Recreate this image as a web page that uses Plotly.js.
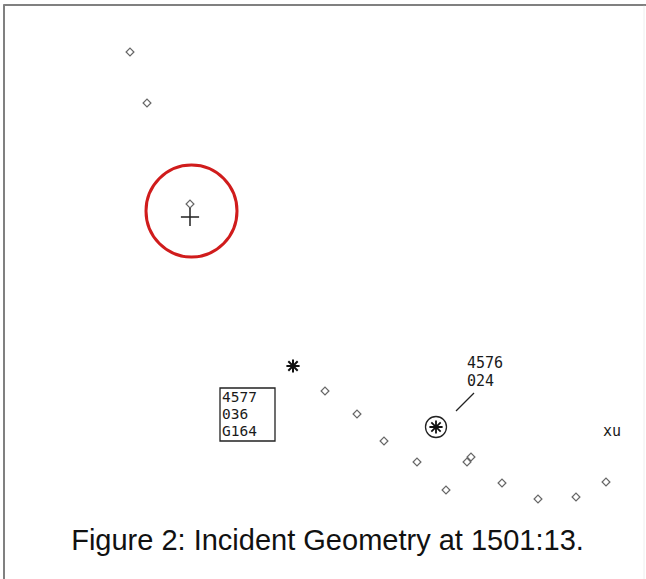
<!DOCTYPE html>
<html>
<head>
<meta charset="utf-8">
<script src="https://cdn.plot.ly/plotly-3.0.1.min.js"></script>
<style>html,body{margin:0;padding:0;background:#fff;}#chart{width:646px;height:579px;}</style>
</head>
<body>
<div id="chart"></div>
<script>
// Radar plot positions (screen units)
const trackX = [130, 147, 190, 325, 357, 384, 417, 446, 467, 471, 502, 538, 576, 606];
const trackY = [52, 103, 204, 391, 414, 441, 462, 490, 462, 457, 483, 499, 497, 482];
const crossX = [190];
const crossY = [217];
const primaryX = [293];
const primaryY = [366];
const targetX = [436];
const targetY = [427];
const block4577 = ["4577", "036", "G164"];
const block4576 = ["4576", "024"];
const stationLabel = "xu";
const figTitle = "Figure 2: Incident Geometry at 1501:13.";

const mono = "DejaVu Sans Mono";
const ink = "#1a1a1a";

const traces = [
  {x: trackX, y: trackY, mode: "markers", type: "scatter",
   marker: {symbol: "diamond-open", size: 6, color: "#666", line: {width: 1.2}}, hoverinfo: "skip"},
  {x: crossX, y: crossY, mode: "markers", type: "scatter",
   marker: {symbol: "cross-thin-open", size: 13, color: "#222", line: {width: 1.5}}, hoverinfo: "skip"},
  {x: primaryX, y: primaryY, mode: "markers", type: "scatter",
   marker: {symbol: "asterisk-open", size: 11, color: "#111", line: {width: 2}}, hoverinfo: "skip"},
  {x: targetX, y: targetY, mode: "markers", type: "scatter",
   marker: {symbol: "circle-open", size: 21, color: "#222", line: {width: 1.3}}, hoverinfo: "skip"},
  {x: targetX, y: targetY, mode: "markers", type: "scatter",
   marker: {symbol: "asterisk-open", size: 11, color: "#111", line: {width: 1.8}}, hoverinfo: "skip"}
];

const annotations = [];
const lineY4577 = [397, 414, 431];
block4577.forEach((t, i) => annotations.push({x: 221, y: lineY4577[i], xref: "x", yref: "y", text: t,
  showarrow: false, xanchor: "left", yanchor: "middle", borderpad: 0,
  font: {family: mono, size: 14.5, color: ink}}));
const lineY4576 = [363, 381];
block4576.forEach((t, i) => annotations.push({x: 466, y: lineY4576[i], xref: "x", yref: "y", text: t,
  showarrow: false, xanchor: "left", yanchor: "middle", borderpad: 0,
  font: {family: mono, size: 15, color: ink}}));
annotations.push({x: 612, y: 431, xref: "x", yref: "y", text: stationLabel, showarrow: false,
  xanchor: "center", yanchor: "middle", font: {family: mono, size: 15, color: ink}});

const shapes = [
  {type: "line", xref: "paper", yref: "paper", x0: 0.0062, x1: 0.0062, y0: 0, y1: 0.992, line: {color: "#808080", width: 2}},
  {type: "line", xref: "paper", yref: "paper", x0: 0.005, x1: 1, y0: 0.9914, y1: 0.9914, line: {color: "#808080", width: 2}},
  {type: "line", xref: "paper", yref: "paper", x0: 0.997, x1: 0.997, y0: 0, y1: 0.99, line: {color: "#eeeeee", width: 1}},
  {type: "circle", xref: "x", yref: "y", x0: 146, x1: 237, y0: 165, y1: 257, line: {color: "#d01c1c", width: 3}},
  {type: "rect", xref: "x", yref: "y", x0: 220, x1: 275, y0: 388, y1: 441, line: {color: "#222", width: 1.3}},
  {type: "line", xref: "x", yref: "y", x0: 456, y0: 411, x1: 474, y1: 393, line: {color: "#222", width: 1.2}}
];

const layout = {
  width: 646, height: 579,
  margin: {l: 0, r: 0, t: 0, b: 0},
  paper_bgcolor: "#fff", plot_bgcolor: "#fff",
  showlegend: false,
  xaxis: {range: [0, 646], visible: false, fixedrange: true},
  yaxis: {range: [579, 0], visible: false, fixedrange: true},
  title: {text: figTitle, x: 0.507, xanchor: "center", y: 1 - 540 / 579, yanchor: "middle",
          xref: "paper", yref: "paper",
          font: {family: "Liberation Sans, Arial, sans-serif", size: 29, color: "#111"}},
  annotations: annotations,
  shapes: shapes
};

Plotly.newPlot("chart", traces, layout, {displayModeBar: false, staticPlot: true});
</script>
</body>
</html>
